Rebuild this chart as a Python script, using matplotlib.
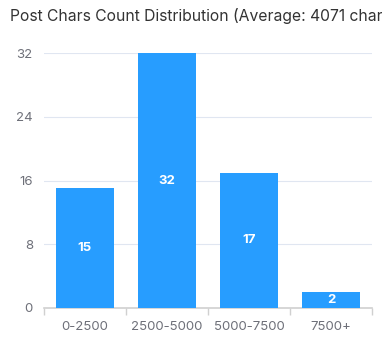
import matplotlib
matplotlib.use("Agg")
import matplotlib.pyplot as plt

categories = ["0-2500", "2500-5000", "5000-7500", "7500+"]
counts = [15, 32, 17, 2]
average_chars = 4071
y_ticks = [0, 8, 16, 24, 32]

bar_color = "#279DFF"
grid_color = "#E0E6F1"
text_color = "#6E7079"

plt.rcParams["font.family"] = ["Inter", "DejaVu Sans"]

fig = plt.figure(figsize=(3.82, 3.5), dpi=100)
ax = fig.add_axes([44 / 382, 1 - 308 / 350, 328 / 382, 255 / 350])

x = range(len(categories))
bars = ax.bar(x, counts, width=0.7, color=bar_color, zorder=3)
for rect, v in zip(bars, counts):
    ax.text(rect.get_x() + rect.get_width() / 2, rect.get_height() / 2, str(v),
            ha="center", va="center", color="white", fontsize=9.5,
            fontweight="bold", zorder=4)

ax.set_xlim(-0.5, len(categories) - 0.5)
ax.set_ylim(0, 32)
ax.set_yticks(y_ticks)
ax.set_xticks(list(x))
ax.set_xticklabels(categories)
ax.set_xticks([i - 0.5 for i in range(len(categories) + 1)], minor=True)

ax.grid(axis="y", color=grid_color, linewidth=0.8, zorder=0)
for side in ("top", "right", "left"):
    ax.spines[side].set_visible(False)
ax.spines["bottom"].set_color("#D0D0D0")
ax.spines["bottom"].set_linewidth(1.2)

ax.tick_params(axis="y", length=0, pad=8, labelsize=9.5, labelcolor=text_color)
ax.tick_params(axis="x", which="major", length=0, pad=9, labelsize=9.5, labelcolor=text_color)
ax.tick_params(axis="x", which="minor", length=5, width=1, color="#D0D0D0")

fig.text(10 / 382, 1 - 16 / 350, f"Post Chars Count Distribution (Average: {average_chars} chars)",
         ha="left", va="center", fontsize=11.3, color="#333333")

fig.savefig("out.png", dpi=100)
